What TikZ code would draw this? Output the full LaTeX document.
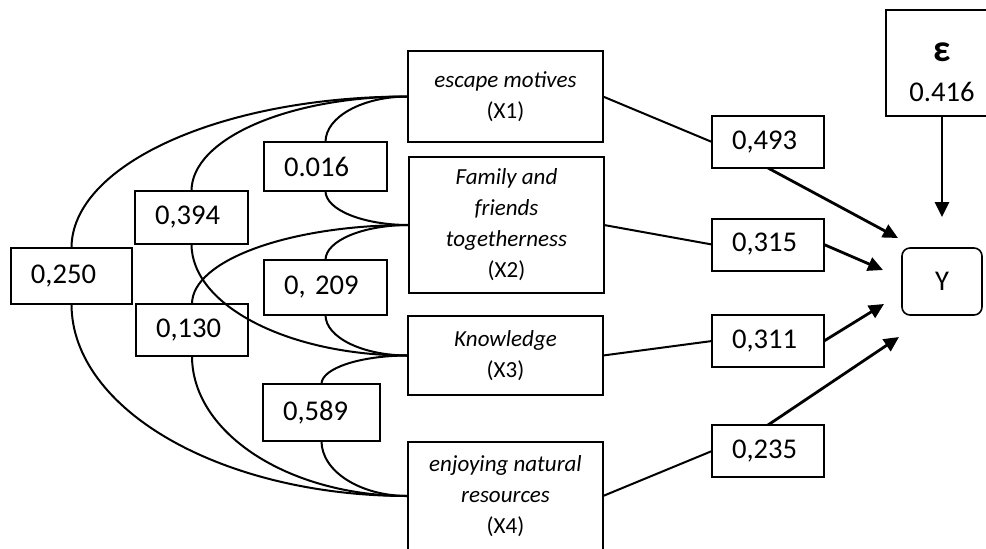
\documentclass[tikz,border=0pt]{standalone}
\usepackage{fontspec}
\setmainfont{Carlito}
\usetikzlibrary{arrows.meta,calc}

% quarter-ellipse arcs: var -> box top, box bottom -> var
\newcommand{\corrlink}[3]{%
  \draw[link] let \p1=(#1.west), \p2=(#2.north), \p3=(#2.south), \p4=(#3.west) in
    (\p1) .. controls ({\x1+0.552*(\x2-\x1)},\y1) and (\x2,{\y2+0.552*(\y1-\y2)}) .. (\p2)
    (\p3) .. controls (\x3,{\y3+0.552*(\y4-\y3)}) and ({\x4+0.552*(\x3-\x4)},\y4) .. (\p4);}

\begin{document}
\begin{tikzpicture}[x=0.5pt,y=-0.5pt,
  var/.style={rectangle,draw,line width=1pt,inner sep=0pt,outer sep=0pt,
              minimum width=97.5pt,align=center,
              font=\fontsize{11.5}{15.5}\selectfont},
  num/.style={rectangle,draw,line width=1pt,inner xsep=10pt,inner ysep=0pt,
              outer sep=0pt,align=left,font=\fontsize{14.3}{17}\selectfont},
  yres/.style={rectangle,draw,line width=0.8pt,rounded corners=4pt,outer sep=0pt,
               minimum width=40pt,minimum height=33.5pt,
               font=\fontsize{14.3}{17}\selectfont},
  link/.style={line width=1pt},
  arr/.style={line width=1.4pt,-{Triangle[length=7.5pt,width=7pt]}}]
\useasboundingbox (0,0) rectangle (986,548);
%%
%% Variables
\node[var,minimum height=45.5pt](x1) at (505.5, 96.5) {\textit{escape motives}\\(X1)};
\node[var,minimum height=68pt]  (x2) at (506.5,225)   {\textit{Family and}\\\textit{friends}\\\textit{togetherness}\\(X2)};
\node[var,minimum height=39.5pt](x3) at (505.5,355.5) {\textit{Knowledge}\\(X3)};
\node[var,minimum height=54pt]  (x4) at (505.5,496)   {\textit{enjoying natural}\\\textit{resources}\\(X4)};
%%
%% Correlations
\node[num,text width=41.5pt,minimum height=24.5pt](r12) at (325.5,166.5) {0.016};
\node[num,text width=36.5pt,minimum height=26.5pt](r13) at (191.5,217.5) {0,394};
\node[num,text width=40.5pt,minimum height=28pt]  (r14) at ( 71.5,276)   {0,250};
\node[num,text width=41.5pt,minimum height=27.5pt](r23) at (325.5,287.5) {0,\ 209};
\node[num,text width=36pt,  minimum height=26pt]  (r24) at (192,  330)   {0,130};
\node[num,text width=38.5pt,minimum height=28.5pt](r34) at (321.5,412.5) {0,589};
%%
%% Path coefficients
\node[num,text width=36pt,minimum height=26pt](p1) at (768,142)   {0,493};
\node[num,text width=36pt,minimum height=26pt](p2) at (768,244.5) {0,315};
\node[num,text width=36pt,minimum height=26pt](p3) at (768,341)   {0,311};
\node[num,text width=36pt,minimum height=26pt](p4) at (768,451)   {0,235};
%%
%% Residual and outcome
\node[num,text width=36pt,align=center,minimum height=53pt](eps) at (942,63)
  {{\bfseries\fontsize{19}{20}\selectfont\rule{0pt}{19pt}ε}\\[3pt]0.416};
\node[yres](y) at (942,281.5) {Y};
%%
%% Arrow tips near Y
\coordinate (t1) at (898,238);
\coordinate (t2) at (883,270);
\coordinate (t3) at (884,304);
\coordinate (t4) at (899,337);
\coordinate (t5) at (942,217);
%%
%% Correlation arcs
\corrlink{x1}{r12}{x2}
\corrlink{x1}{r13}{x3}
\corrlink{x1}{r14}{x4}
\corrlink{x2}{r23}{x3}
\corrlink{x2}{r24}{x4}
\corrlink{x3}{r34}{x4}
%%
%% Variables -> coefficients
\draw[link](x1.east) -- (p1.west);
\draw[link](x2.east) -- (p2.west);
\draw[link](x3.east) -- (p3.west);
\draw[link](x4.east) -- (p4.west);
%%
%% Coefficients -> Y
\draw[arr](p1.south) -- (t1);
\draw[arr](p2.east) -- (t2);
\draw[arr](p3.east) -- (t3);
\draw[arr](p4.north) -- (t4);
\draw[arr](eps.south) -- (t5);
\end{tikzpicture}
\end{document}
